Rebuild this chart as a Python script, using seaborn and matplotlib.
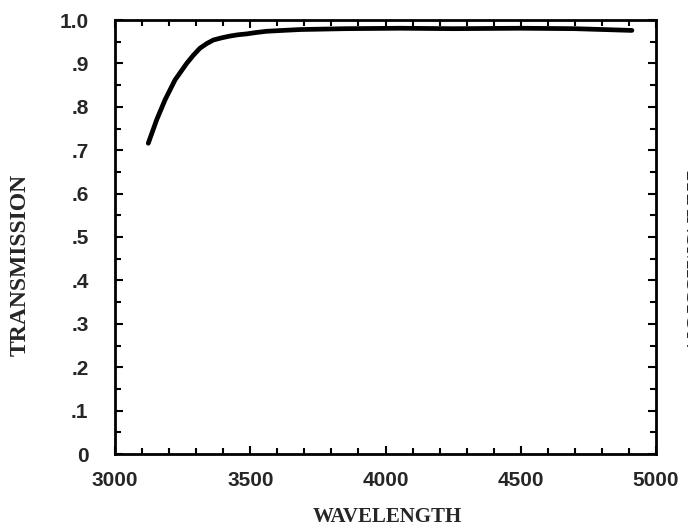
import numpy as np
import pandas as pd
import seaborn as sns
import matplotlib.pyplot as plt
from matplotlib.ticker import MultipleLocator, FixedLocator

# transmission curve
wavelength = [3123, 3154, 3185, 3222, 3265, 3290, 3314, 3340, 3364, 3395, 3425, 3455, 3487, 3520, 3560,
              3620, 3684, 3850, 4054, 4250, 4500, 4700, 4911]
transmission = [0.716, 0.770, 0.816, 0.862, 0.900, 0.919, 0.935, 0.946, 0.954, 0.959, 0.963, 0.966, 0.968, 0.971, 0.974,
                0.976, 0.978, 0.980, 0.981, 0.980, 0.981, 0.980, 0.976]

x_ticks = [3000, 3500, 4000, 4500, 5000]
y_ticks = [0, 0.1, 0.2, 0.3, 0.4, 0.5, 0.6, 0.7, 0.8, 0.9, 1.0]
y_labels = ["0", ".1", ".2", ".3", ".4", ".5", ".6", ".7", ".8", ".9", "1.0"]

df = pd.DataFrame({"wavelength": wavelength, "transmission": transmission})

sns.set_style("ticks")
plt.rcParams["font.family"] = ["Liberation Sans", "DejaVu Sans"]

fig = plt.figure(figsize=(6.88, 5.31), dpi=100)
ax = fig.add_axes([115 / 688, 1 - 454 / 531, (656 - 115) / 688, (454 - 20) / 531])

sns.lineplot(data=df, x="wavelength", y="transmission", ax=ax, color="black", linewidth=3.4,
             solid_capstyle="round", solid_joinstyle="round", estimator=None, sort=True)

ax.set_xlim(3000, 5000)
ax.set_ylim(0, 1.0)
ax.xaxis.set_major_locator(FixedLocator(x_ticks))
ax.xaxis.set_minor_locator(MultipleLocator(100))
ax.yaxis.set_major_locator(FixedLocator(y_ticks))
ax.yaxis.set_minor_locator(MultipleLocator(0.05))
ax.set_xticklabels([str(t) for t in x_ticks])
ax.set_yticklabels(y_labels)

ax.tick_params(which="both", direction="in", top=True, right=True, color="black", width=1.5)
ax.tick_params(which="major", length=6, labelsize=15)
ax.tick_params(axis="x", which="major", pad=12)
ax.tick_params(axis="y", which="major", pad=19)
ax.tick_params(which="minor", length=4)
for lab in ax.get_xticklabels() + ax.get_yticklabels():
    lab.set_fontweight("bold")
for s in ax.spines.values():
    s.set_linewidth(2)
    s.set_color("black")

ax.set_xlabel("")
ax.set_ylabel("")
fig.text(387 / 688, 1 - 517 / 531, "WAVELENGTH", ha="center", va="center",
         family="Liberation Serif", fontweight="bold", fontsize=15)
fig.text(20 / 688, 1 - 265 / 531, "TRANSMISSION", ha="center", va="center", rotation=90,
         family="Liberation Serif", fontweight="bold", fontsize=17)
# neighbouring panel's label, cut off at the right edge of the scan
fig.text(691 / 688, 1 - 258 / 531, "TRANSMISSION", ha="center", va="center", rotation=270,
         family="Liberation Serif", fontweight="bold", fontsize=17)

fig.savefig("out.png", dpi=100)
